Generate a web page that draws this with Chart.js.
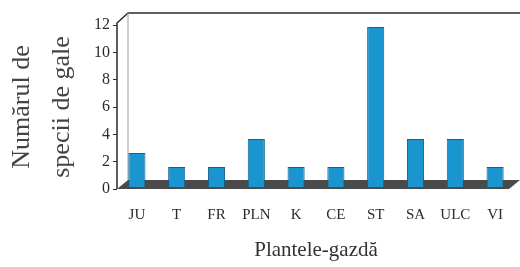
<!DOCTYPE html>
<html>
<head>
<meta charset="utf-8">
<script src="https://cdn.jsdelivr.net/npm/chart.js@4/dist/chart.umd.min.js"></script>
<style>
  html, body { margin: 0; padding: 0; background: #fff; }
  #wrap { width: 520px; height: 267px; }
</style>
</head>
<body>
<div id="wrap"><canvas id="galls"></canvas></div>
<script>
const categories = ['JU', 'T', 'FR', 'PLN', 'K', 'CE', 'ST', 'SA', 'ULC', 'VI']
const gallSpecies = [2, 1, 1, 3, 1, 1, 11, 3, 3, 1]
const yTicks = [0, 2, 4, 6, 8, 10, 12]

const serif = 'Liberation Serif'
const ink = '#2b2b2b'

// dark floor + back wall edges, for the old 3D look
const box3d = {
    id: 'box3d',
    beforeDatasetsDraw(chart) {
        const { ctx, chartArea: a } = chart
        const depthX = 11, depthY = 9
        ctx.save()
        ctx.fillStyle = '#4a4a4a'
        ctx.beginPath()
        ctx.moveTo(a.left, a.bottom)
        ctx.lineTo(a.left + depthX, a.bottom - depthY)
        ctx.lineTo(a.right + 5, a.bottom - depthY)
        ctx.lineTo(a.right - 6, a.bottom)
        ctx.closePath()
        ctx.fill()

        ctx.strokeStyle = ink
        ctx.lineWidth = 1.5
        ctx.beginPath()
        ctx.moveTo(a.left, a.bottom)
        ctx.lineTo(a.left, a.top - 2)
        ctx.lineTo(a.left + depthX, a.top - 12)
        ctx.lineTo(a.right + 10, a.top - 12)
        ctx.stroke()

        ctx.strokeStyle = '#9a9a9a'
        ctx.lineWidth = 1
        ctx.beginPath()
        ctx.moveTo(a.left + depthX, a.top - 12)
        ctx.lineTo(a.left + depthX, a.bottom - depthY)
        ctx.stroke()
        ctx.restore()
    }
}

new Chart(document.getElementById('galls'), {
    type: 'bar',
    data: {
        labels: categories,
        datasets: [{
            data: gallSpecies,
            yAxisID: 'yBars',
            base: -0.45,
            backgroundColor: '#1b95d0',
            borderColor: '#14618a',
            borderWidth: 1,
            borderSkipped: 'bottom',
            barPercentage: 0.86,
            categoryPercentage: 0.5
        }]
    },
    options: {
        responsive: true,
        maintainAspectRatio: false,
        animation: false,
        layout: { padding: { top: 25, right: 5, left: 2 } },
        plugins: {
            legend: { display: false },
            tooltip: { enabled: false }
        },
        scales: {
            x: {
                grid: { display: false },
                border: { display: false },
                ticks: { color: ink, font: { family: serif, size: 15 }, padding: 9, maxRotation: 0 },
                title: {
                    display: true,
                    text: 'Plantele-gazdă',
                    color: '#333',
                    font: { family: serif, size: 21 },
                    padding: { top: 13 }
                },
                afterFit(s) { s.height = 78 }
            },
            y: {
                min: 0,
                max: 12,
                afterBuildTicks(s) { s.ticks = yTicks.map(v => ({ value: v })) },
                grid: { drawOnChartArea: false, tickLength: 4, color: ink },
                border: { display: false },
                ticks: { color: ink, font: { family: serif, size: 16 }, padding: 3 },
                title: {
                    display: true,
                    text: ['Numărul de', 'specii de gale'],
                    color: '#444',
                    font: { family: serif, size: 26, lineHeight: 1.55 },
                    padding: 0
                },
                afterFit(s) { s.width = 115 }
            },
            yBars: {
                display: false,
                min: -0.57,
                max: 11.14
            }
        }
    },
    plugins: [box3d]
})
</script>
</body>
</html>
